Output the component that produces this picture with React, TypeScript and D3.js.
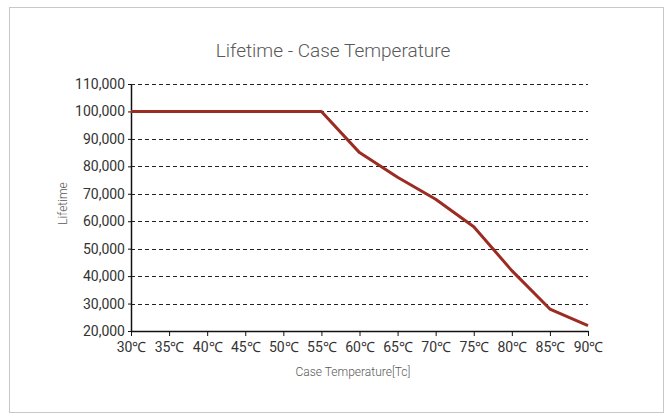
import { useEffect, useRef } from "react";
import * as d3 from "d3";

const temps = [30, 35, 40, 45, 50, 55, 60, 65, 70, 75, 80, 85, 90];
const lifetime = [100000, 100000, 100000, 100000, 100000, 100000, 85000, 76000, 68000, 58000, 42000, 28000, 22000];
const yTicks = [20000, 30000, 40000, 50000, 60000, 70000, 80000, 90000, 100000, 110000];

const W = 672;
const H = 420;
const FONT = "Roboto, 'Open Sans', sans-serif";

export default function App() {
  const svgRef = useRef<SVGSVGElement>(null);

  useEffect(() => {
    if (!svgRef.current) return;
    const margin = { top: 84, right: 84, bottom: 89, left: 131 };
    const innerWidth = W - margin.left - margin.right;
    const innerHeight = H - margin.top - margin.bottom;

    const svg = d3.select(svgRef.current);
    svg.selectAll("*").remove();

    svg.append("rect")
      .attr("x", 9.5).attr("y", 7.5)
      .attr("width", 654).attr("height", 405)
      .attr("fill", "#fff")
      .attr("stroke", "#c8c8c8");

    svg.append("text")
      .attr("x", 333).attr("y", 57)
      .attr("text-anchor", "middle")
      .attr("font-family", FONT)
      .attr("font-size", 19)
      .attr("font-weight", 300)
      .attr("fill", "#595959")
      .text("Lifetime - Case Temperature");

    const g = svg.append("g").attr("transform", `translate(${margin.left},${margin.top})`);

    const x = d3.scaleLinear().domain([30, 90]).range([0, innerWidth]);
    const y = d3.scaleLinear().domain([20000, 110000]).range([innerHeight, 0]);

    // dashed gridlines
    g.selectAll(".grid")
      .data(yTicks.slice(1))
      .join("line")
      .attr("x1", 0).attr("x2", innerWidth)
      .attr("y1", (d) => Math.round(y(d)) + 0.5).attr("y2", (d) => Math.round(y(d)) + 0.5)
      .attr("stroke", "#222")
      .attr("stroke-width", 1)
      .attr("stroke-dasharray", "4,3");

    // y axis
    g.append("g")
      .call(d3.axisLeft(y).tickValues(yTicks).tickSize(3).tickSizeOuter(0).tickPadding(3).tickFormat(d3.format(",")))
      .call((a) => {
        a.select(".domain").attr("stroke", "#111").attr("stroke-width", 1.5);
        a.selectAll(".tick line").attr("stroke", "#111");
        a.selectAll(".tick text")
          .attr("font-family", FONT).attr("font-size", 14).attr("fill", "#333");
      });

    // x axis
    g.append("g")
      .attr("transform", `translate(0,${innerHeight})`)
      .call(d3.axisBottom(x).tickValues(temps).tickSize(5).tickSizeOuter(0).tickPadding(6).tickFormat((d) => `${d}℃`))
      .call((a) => {
        a.select(".domain").attr("stroke", "#111").attr("stroke-width", 1.5);
        a.selectAll(".tick line").attr("stroke", "#111");
        a.selectAll(".tick text")
          .attr("font-family", FONT).attr("font-size", 14).attr("fill", "#333");
      });

    const line = d3.line<number>()
      .x((_, i) => x(temps[i]))
      .y((d) => y(d));

    g.append("path")
      .datum(lifetime)
      .attr("d", line)
      .attr("fill", "none")
      .attr("stroke", "#9c2b22")
      .attr("stroke-width", 3)
      .attr("stroke-linejoin", "round");

    svg.append("text")
      .attr("x", 353).attr("y", 376)
      .attr("text-anchor", "middle")
      .attr("font-family", FONT)
      .attr("font-size", 12)
      .attr("font-weight", 300)
      .attr("fill", "#595959")
      .text("Case Temperature[Tc]");

    svg.append("text")
      .attr("transform", `translate(67,${margin.top + innerHeight / 2 - 4}) rotate(-90)`)
      .attr("text-anchor", "middle")
      .attr("font-family", FONT)
      .attr("font-size", 12)
      .attr("font-weight", 300)
      .attr("fill", "#595959")
      .text("Lifetime");
  }, []);

  return (
    <svg
      ref={svgRef}
      width={W}
      height={H}
      style={{ position: "fixed", left: 0, top: 0, background: "#fff" }}
    />
  );
}
